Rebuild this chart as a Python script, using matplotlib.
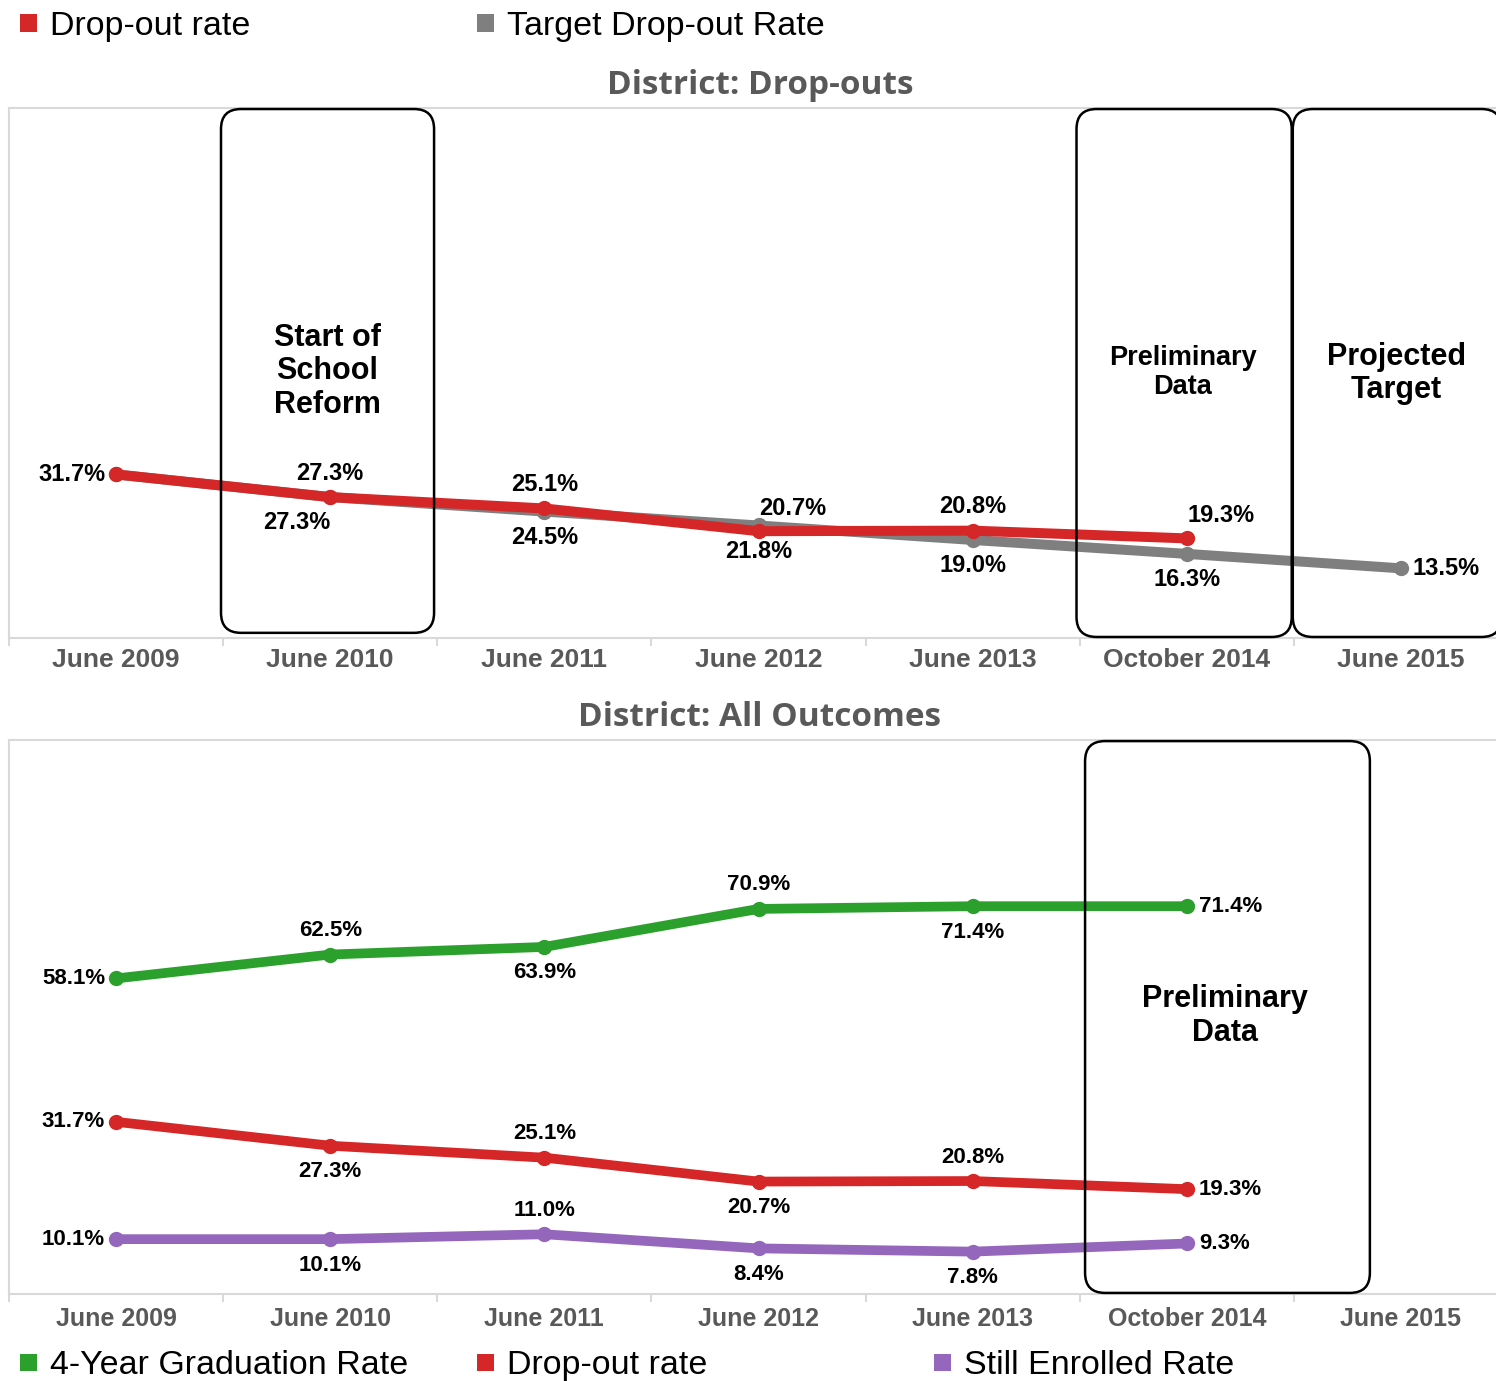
import matplotlib
matplotlib.use("Agg")
import matplotlib.pyplot as plt
from matplotlib.patches import FancyBboxPatch, Rectangle
from matplotlib.transforms import IdentityTransform

# ---------------- data ----------------
categories = ['June 2009', 'June 2010', 'June 2011', 'June 2012',
              'June 2013', 'October 2014', 'June 2015']

top_dropout = [31.7, 27.3, 25.1, 20.7, 20.8, 19.3]
top_target = [31.7, 27.3, 24.5, 21.8, 19.0, 16.3, 13.5]

grad_rate = [58.1, 62.5, 63.9, 70.9, 71.4, 71.4]
dropout_rate = [31.7, 27.3, 25.1, 20.7, 20.8, 19.3]
enrolled_rate = [10.1, 10.1, 11.0, 8.4, 7.8, 9.3]

# label placement (style only)
top_dropout_pos = ['left', 'above', 'above', 'aboveright', 'above', 'aboveright']
top_target_pos = [None, 'belowleft', 'below', 'below', 'below', 'below', 'right']
grad_pos = ['left', 'above', 'below', 'above', 'below', 'right']
drop_pos = ['left', 'below', 'above', 'below', 'above', 'right']
enr_pos = ['left', 'below', 'above', 'below', 'below', 'right']

RED = '#d62728'
GRAY = '#7f7f7f'
GREEN = '#2ca02c'
PURPLE = '#9467bd'
TXT_GRAY = '#595959'
SPINE = '#d9d9d9'

W, H = 1496, 1381
fig = plt.figure(figsize=(W / 100, H / 100), dpi=100)

FONT = ['Liberation Sans', 'DejaVu Sans']
TITLEFONT = ['Open Sans', 'DejaVu Sans']

ax1 = fig.add_axes([9 / W, (H - 638) / H, 1499 / W, 530 / H])
ax2 = fig.add_axes([9 / W, (H - 1294) / H, 1499 / W, 554 / H])

x_all = list(range(len(categories)))

offsets = {
    'left': (-11, 0, 'right', 'center'),
    'right': (12, 0, 'left', 'center'),
    'above': (0, 24, 'center', 'center'),
    'below': (0, -26, 'center', 'center'),
    'aboveright': (34, 23, 'center', 'center'),
    'belowleft': (-33, -25, 'center', 'center'),
}


def label_series(ax, xs, ys, poss, size):
    for x, y, p in zip(xs, ys, poss):
        if p is None:
            continue
        dx, dy, ha, va = offsets[p]
        ax.annotate(f'{y:.1f}%', (x, y), xytext=(dx, dy),
                    textcoords='offset pixels', ha=ha, va=va,
                    fontsize=size, fontweight='bold', family=FONT,
                    color='black', zorder=10)


def style_axis(ax, ymax, tsize, pad):
    ax.set_xlim(-0.5, 6.5)
    ax.set_ylim(0, ymax)
    ax.set_yticks([])
    ax.set_xticks(x_all)
    ax.set_xticklabels(categories, fontsize=tsize, fontweight='bold',
                       color=TXT_GRAY, family=FONT)
    ax.tick_params(axis='x', which='major', length=0, pad=pad)
    ax.set_xticks([i - 0.5 for i in range(len(categories) + 1)], minor=True)
    ax.tick_params(axis='x', which='minor', length=6, color=SPINE, width=1.5)
    for s in ['left', 'top', 'bottom', 'right']:
        ax.spines[s].set_color(SPINE)
        ax.spines[s].set_linewidth(1.5)
    ax.patch.set_alpha(0)


def rounded_box(ax, x0, x1, y0, y1, r=20):
    (px0, py0) = ax.transData.transform((x0, y0))
    (px1, py1) = ax.transData.transform((x1, y1))
    # a nearly transparent fill keeps the renderer from clipping the curved path
    p = FancyBboxPatch((px0, py0), (px1 - px0), (py1 - py0),
                       boxstyle=f'round,pad=0,rounding_size={r}',
                       transform=IdentityTransform(), fill=True,
                       facecolor=(1, 1, 1, 0.003),
                       edgecolor='black', linewidth=1.8, zorder=5)
    fig.patches.append(p)


# ---------------- top chart ----------------
style_axis(ax1, 102.7, 19, 7)
ax1.plot(x_all[:len(top_target)], top_target, color=GRAY, lw=7.2,
         marker='o', ms=10, solid_capstyle='round', zorder=3)
ax1.plot(x_all[:len(top_dropout)], top_dropout, color=RED, lw=7.2,
         marker='o', ms=10, solid_capstyle='round', zorder=4)
label_series(ax1, x_all, top_dropout, top_dropout_pos, 17)
label_series(ax1, x_all, top_target, top_target_pos, 17)

fig.canvas.draw()
rounded_box(ax1, 0.49, 1.485, 1.0, 102.5)
rounded_box(ax1, 4.485, 5.49, 0.2, 102.5)
rounded_box(ax1, 5.495, 6.47, 0.2, 102.5)

ax1.text(0.985, 51.7, 'Start of\nSchool\nReform', ha='center', va='center',
         fontsize=22, fontweight='bold', family=FONT, linespacing=1.15, zorder=10)
ax1.text(4.98, 51.5, 'Preliminary\nData', ha='center', va='center',
         fontsize=19.5, fontweight='bold', family=FONT, linespacing=1.15, zorder=10)
ax1.text(5.98, 51.3, 'Projected\nTarget', ha='center', va='center',
         fontsize=22, fontweight='bold', family=FONT, linespacing=1.15, zorder=10)

# ---------------- bottom chart ----------------
style_axis(ax2, 102.0, 18, 9)
ax2.plot(x_all[:len(grad_rate)], grad_rate, color=GREEN, lw=7.0,
         marker='o', ms=10, solid_capstyle='round', zorder=4)
ax2.plot(x_all[:len(dropout_rate)], dropout_rate, color=RED, lw=7.0,
         marker='o', ms=10, solid_capstyle='round', zorder=4)
ax2.plot(x_all[:len(enrolled_rate)], enrolled_rate, color=PURPLE, lw=7.0,
         marker='o', ms=10, solid_capstyle='round', zorder=4)
label_series(ax2, x_all, grad_rate, grad_pos, 16)
label_series(ax2, x_all, dropout_rate, drop_pos, 16)
label_series(ax2, x_all, enrolled_rate, enr_pos, 16)

rounded_box(ax2, 4.525, 5.855, 0.2, 101.8)
ax2.text(5.18, 51.2, 'Preliminary\nData', ha='center', va='center',
         fontsize=22, fontweight='bold', family=FONT, linespacing=1.15, zorder=10)

# ---------------- titles ----------------
fig.text(760 / W, 1 - 86 / H, 'District: Drop-outs', ha='center', va='center',
         fontsize=24, fontweight='bold', color=TXT_GRAY, family=TITLEFONT)
fig.text(760 / W, 1 - 718 / H, 'District: All Outcomes', ha='center', va='center',
         fontsize=24, fontweight='bold', color=TXT_GRAY, family=TITLEFONT)

# ---------------- legends ----------------
def legend_item(xpix, ypix, color, text):
    fig.patches.append(Rectangle(((xpix) / W, 1 - (ypix + 8.5) / H), 17 / W, 17 / H,
                                 transform=fig.transFigure, facecolor=color,
                                 edgecolor='none'))
    fig.text((xpix + 30) / W, 1 - ypix / H, text, ha='left', va='center_baseline',
             fontsize=24.5, color='black', family=FONT)


top_legend = [('Drop-out rate', RED), ('Target Drop-out Rate', GRAY)]
bottom_legend = [('4-Year Graduation Rate', GREEN), ('Drop-out rate', RED),
                 ('Still Enrolled Rate', PURPLE)]
for i, (t, c) in enumerate(top_legend):
    legend_item(20 + 457 * i, 23, c, t)
for i, (t, c) in enumerate(bottom_legend):
    legend_item(20 + 457 * i, 1362, c, t)

fig.savefig('out.png', dpi=100)
